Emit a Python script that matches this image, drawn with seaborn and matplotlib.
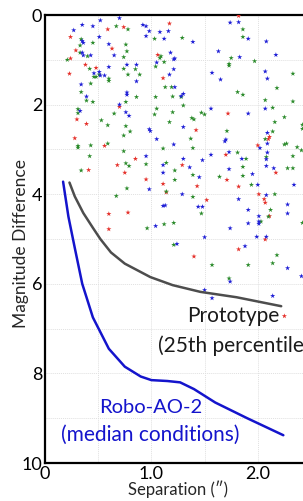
import matplotlib
matplotlib.use("Agg")
import matplotlib.pyplot as plt
from matplotlib.ticker import MultipleLocator, FixedLocator, FixedFormatter
import seaborn as sns
import pandas as pd

# detected companions, (separation ["], magnitude difference)
red_sep = [0.59, 0.24, 0.29, 0.24, 0.38, 0.48, 0.23, 0.30, 0.39, 0.28, 0.56,
           0.74, 1.17, 0.63, 1.06, 1.11, 0.70, 0.85, 1.82, 1.72, 1.42, 1.70,
           2.11, 2.10, 2.00, 0.41, 0.60, 0.60, 0.68, 0.75, 0.95, 1.11, 1.14,
           0.78, 1.29, 1.71, 1.82, 1.43, 1.52, 1.82, 1.40, 2.17, 2.01, 2.06,
           2.07, 2.11, 2.07, 2.25]
red_mag = [0.32, 0.49, 0.79, 0.97, 1.11, 1.18, 1.31, 2.33, 2.43, 2.75, 2.92,
           0.27, 0.19, 0.75, 0.89, 1.41, 2.05, 3.21, 0.02, 2.20, 2.57, 3.12,
           2.72, 2.77, 2.91, 3.46, 4.44, 4.78, 3.35, 3.52, 3.67, 3.77, 3.96,
           4.41, 3.35, 3.68, 3.83, 3.82, 4.13, 5.23, 5.39, 3.52, 4.00, 4.11,
           4.19, 4.49, 5.01, 6.72]

green_sep = [0.34, 0.45, 0.33, 0.33, 0.40, 0.21, 0.42, 0.51, 0.46, 0.48, 0.60,
             0.60, 0.43, 0.34, 0.39, 0.45, 0.31, 0.31, 0.53, 0.59, 0.31, 0.31,
             0.43, 0.59, 0.42,
             0.67, 0.78, 1.03, 0.76, 0.77, 0.74, 1.09, 1.08, 1.12, 1.04, 0.74,
             0.78, 0.85, 0.89, 1.13, 1.19, 1.20, 0.86, 1.04, 0.76, 0.65, 1.05,
             1.03, 1.20, 1.17, 0.76, 0.80, 0.74, 1.11, 0.74,
             1.29, 1.75, 1.73, 1.73, 1.81, 1.28, 1.30, 1.47, 1.50, 1.38, 1.40,
             1.71, 1.37, 1.39, 1.81,
             1.86, 1.86, 1.97, 2.33, 2.18, 1.86, 2.07, 2.33, 2.14, 2.25, 2.16,
             2.42, 2.42, 2.14, 2.07, 2.25, 2.27, 2.37, 2.41, 2.08, 1.89, 2.33,
             0.34, 0.76, 0.79, 0.95, 0.77, 1.14, 0.67, 0.96, 1.12, 1.21, 1.21,
             1.14, 1.22, 1.22, 1.39, 1.64, 1.39, 1.47, 1.57, 1.73,
             1.86, 2.28, 2.33, 1.94, 2.16, 2.12, 2.10, 2.03, 2.42, 2.18, 2.14,
             1.91, 1.86]
green_mag = [0.54, 0.62, 0.68, 0.84, 0.92, 1.00, 1.20, 1.33, 1.38, 1.38, 1.42,
             1.47, 1.53, 1.72, 1.91, 1.94, 2.10, 2.19, 2.35, 2.46, 2.92, 2.96,
             2.91, 2.87, 3.15,
             0.25, 0.32, 0.53, 0.66, 0.81, 0.94, 0.92, 0.96, 1.05, 1.15, 1.20,
             1.33, 1.21, 1.33, 1.61, 1.61, 1.82, 1.83, 1.83, 1.94, 2.20, 2.09,
             2.22, 2.17, 2.39, 2.48, 2.60, 2.69, 2.98, 3.04,
             0.51, 0.96, 1.09, 1.13, 1.72, 1.83, 2.02, 2.18, 2.22, 2.30, 2.33,
             2.59, 2.76, 2.97, 3.07,
             0.32, 0.49, 1.03, 1.31, 1.63, 1.78, 1.90, 1.93, 2.07, 2.28, 2.39,
             2.45, 2.54, 2.60, 2.77, 2.89, 2.87, 2.95, 3.02, 3.17, 3.21, 3.15,
             3.47, 3.31, 3.37, 3.33, 3.87, 3.94, 4.04, 4.76, 4.67, 4.64, 5.13,
             3.30, 3.47, 3.68, 3.57, 3.61, 4.06, 4.43, 5.58, 5.88,
             3.59, 3.42, 3.42, 3.79, 4.00, 4.35, 4.50, 4.61, 4.64, 5.36, 5.54,
             5.58, 3.39]

blue_sep = [0.52, 0.35, 0.45, 0.27, 0.51, 0.35, 0.36, 0.60, 0.35, 0.36, 0.43,
            0.60, 0.46, 0.51, 0.52, 0.56, 0.34, 0.39, 0.33,
            0.70, 0.92, 0.95, 0.98, 0.95, 1.08, 1.16, 1.12, 0.65, 1.18, 1.21,
            1.05, 1.21, 0.77, 0.86, 0.86, 1.17, 0.77, 0.77, 0.70, 0.76, 0.79,
            0.98, 0.99, 1.05, 1.21, 0.95,
            1.74, 1.82, 1.39, 1.63, 1.22, 1.57, 1.65, 1.22, 1.30, 1.28, 1.56,
            1.30, 1.69, 1.70, 1.73, 1.56, 1.30, 1.48,
            1.91, 2.08, 2.17, 1.83, 2.07, 2.09, 2.07, 1.91, 2.09, 2.09, 2.02,
            2.09, 2.08, 1.85,
            1.11, 1.11, 0.98, 1.11, 1.13, 1.04,
            1.36, 1.45, 1.73, 1.29, 1.82, 1.44, 1.48, 1.74, 1.50, 1.24, 1.74,
            1.50, 1.57,
            2.08, 1.95, 2.15, 2.00, 2.34, 2.08, 2.28, 1.91, 2.28, 2.01, 2.01,
            2.01, 1.91, 1.99, 2.08, 1.88, 2.28, 2.41, 2.14]
blue_mag = [0.12, 0.22, 0.25, 0.34, 0.49, 0.58, 0.62, 0.65, 0.84, 0.90, 0.90,
            1.16, 1.30, 1.27, 1.35, 1.35, 1.55, 1.82, 2.14,
            0.07, 0.22, 0.25, 0.36, 0.47, 0.38, 0.36, 0.53, 0.90, 0.84, 0.99,
            1.06, 1.21, 1.11, 1.11, 1.48, 1.33, 1.73, 1.78, 2.00, 2.17, 2.25,
            2.55, 2.59, 2.77, 2.89, 3.15,
            0.17, 0.16, 0.60, 0.81, 0.97, 1.29, 1.44, 1.61, 1.76, 1.81, 2.09,
            2.50, 2.82, 2.78, 3.06, 3.12, 3.21, 3.24,
            0.53, 0.59, 0.89, 0.94, 1.26, 1.42, 2.09, 2.20, 2.63, 2.87, 2.97,
            3.07, 3.22, 3.21,
            3.35, 3.52, 3.89, 4.26, 4.25, 4.71,
            3.40, 3.62, 3.44, 4.00, 4.11, 4.28, 4.28, 4.76, 4.96, 5.11, 5.95,
            6.14, 6.32,
            3.37, 3.55, 3.42, 3.79, 3.79, 4.02, 4.23, 4.35, 4.43, 4.49, 4.61,
            4.66, 4.65, 4.95, 4.95, 5.16, 5.65, 5.83, 6.27]

# contrast curves
robo_sep = [0.17, 0.22, 0.28, 0.35, 0.45, 0.60, 0.75, 0.90, 1.00, 1.15, 1.27,
            1.40, 1.60, 1.90, 2.24]
robo_mag = [3.72, 4.50, 5.20, 6.00, 6.75, 7.45, 7.85, 8.07, 8.15, 8.17, 8.20,
            8.35, 8.65, 9.00, 9.38]
proto_sep = [0.23, 0.28, 0.36, 0.45, 0.52, 0.62, 0.75, 0.99, 1.20, 1.46, 1.80,
             2.22]
proto_mag = [3.74, 4.05, 4.42, 4.75, 5.00, 5.30, 5.55, 5.85, 6.03, 6.18, 6.30,
             6.50]

colors = {"red": "#e5302a", "green": "#2a8a2a", "blue": "#1e1ed6"}

pts = pd.concat([
    pd.DataFrame({"sep": red_sep, "mag": red_mag, "c": "red"}),
    pd.DataFrame({"sep": green_sep, "mag": green_mag, "c": "green"}),
    pd.DataFrame({"sep": blue_sep, "mag": blue_mag, "c": "blue"}),
], ignore_index=True)

sns.set_theme(style="white")
plt.rcParams['font.family'] = ['Lato', 'DejaVu Sans']

fig = plt.figure(figsize=(3.03, 5.01), dpi=100)
# axes run past the right edge of the figure, as in the cropped original
ax = fig.add_axes([45 / 303, 38 / 501, 266 / 303, 448 / 501])

sns.scatterplot(data=pts, x="sep", y="mag", hue="c", palette=colors,
                marker="*", s=15, linewidth=0, legend=False, ax=ax, zorder=3)
sns.lineplot(x=proto_sep, y=proto_mag, color="#4d4d4d", lw=1.8, sort=False,
             ax=ax, zorder=4)
sns.lineplot(x=robo_sep, y=robo_mag, color="#1414cc", lw=1.8, sort=False,
             ax=ax, zorder=4)

ax.set_xlim(0, 2.5)
ax.set_ylim(10, 0)

ax.xaxis.set_major_locator(FixedLocator([0, 1, 2]))
ax.xaxis.set_major_formatter(FixedFormatter(["0", "1.0", "2.0"]))
ax.xaxis.set_minor_locator(MultipleLocator(0.5))
ax.yaxis.set_major_locator(MultipleLocator(2))
ax.yaxis.set_minor_locator(MultipleLocator(1))
ax.grid(True, which="both", color="#e0e0e0", lw=0.7, ls=(0, (1, 1)))
ax.tick_params(which="both", length=0, labelsize=13, pad=2, colors="black")

for s in ["left", "bottom", "top"]:
    ax.spines[s].set_color("black")
    ax.spines[s].set_linewidth(1.6)
ax.spines["right"].set_visible(False)

ax.set_xlabel("Separation (\u2033)", fontsize=12, labelpad=-1)
ax.set_ylabel("Magnitude Difference", fontsize=12.5)
ax.yaxis.set_label_coords(-0.06, 0.49)

ax.text(1.77, 6.72, "Prototype", fontsize=15, ha="center", va="center",
        color="#1a1a1a")
ax.text(1.77, 7.39, "(25th percentile)", fontsize=15, ha="center",
        va="center", color="#1a1a1a")
ax.text(0.99, 8.75, "Robo-AO-2", fontsize=14.5, ha="center", va="center",
        color="#1414cc")
ax.text(0.99, 9.38, "(median conditions)", fontsize=15, ha="center",
        va="center", color="#1414cc")

fig.savefig("out.png", dpi=100)
